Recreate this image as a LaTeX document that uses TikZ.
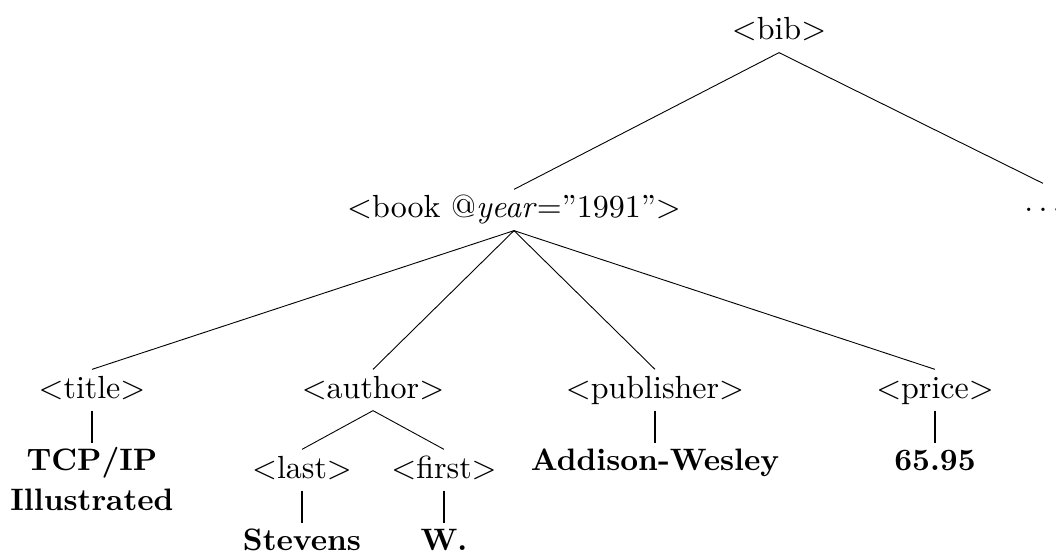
\documentclass[tikz,border=0pt]{standalone}
\usepackage{tikz}
\usetikzlibrary{positioning}

\begin{document}
\begin{tikzpicture}[
    x=1pt, y=-1pt,
    node distance=32pt,
    tag/.style={scale=3.2, font=\fontsize{10}{13}\selectfont,
                inner sep=1.25pt, text height=7.5pt, text depth=2.5pt, anchor=base},
    leaf/.style={scale=3.1, font=\fontsize{10}{13}\selectfont\bfseries,
                 inner sep=1.3pt, align=center},
    value/.style={leaf, text height=7.5pt},
    edge/.style={line width=0.9pt},
    stem/.style={line width=1.5pt}
]
\useasboundingbox (0,0) rectangle (1056,553);

\node[tag] (bib) at (779,40) {$<$bib$>$};
\node[tag] (book) at (514,218) {$<$book @\textit{year}$=$''1991''$>$};
\node[tag] (more) at (1043,212) {$\ldots$};

\node[tag] (title) at (92,398) {$<$title$>$};
\node[tag] (author) at (373,398) {$<$author$>$};
\node[tag] (publisher) at (655,398) {$<$publisher$>$};
\node[tag] (price) at (935,398) {$<$price$>$};

\node[tag] (last) at (302,478) {$<$last$>$};
\node[tag] (first) at (444,478) {$<$first$>$};

\node[leaf, below=of title] (titleval) {TCP/IP\\Illustrated};
\node[value, below=of publisher] (pubval) {Addison-Wesley};
\node[value, below=of price] (priceval) {65.95};
\node[value, below=of last] (lastval) {Stevens};
\node[value, below=of first] (firstval) {W.};

\draw[edge] (bib.south) -- (book.north);
\draw[edge] (bib.south) -- (more.north);
\draw[edge] (book.south) -- (title.north);
\draw[edge] (book.south) -- (author.north);
\draw[edge] (book.south) -- (publisher.north);
\draw[edge] (book.south) -- (price.north);
\draw[edge] (author.south) -- (last.north);
\draw[edge] (author.south) -- (first.north);

\draw[stem] (title.south) -- (titleval.north);
\draw[stem] (publisher.south) -- (pubval.north);
\draw[stem] (price.south) -- (priceval.north);
\draw[stem] (last.south) -- (lastval.north);
\draw[stem] (first.south) -- (firstval.north);
\end{tikzpicture}
\end{document}
